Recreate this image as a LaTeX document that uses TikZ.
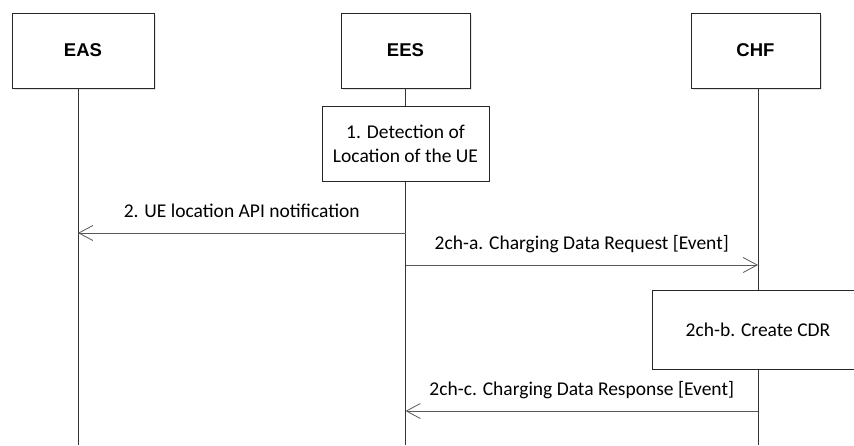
\documentclass[tikz,border=0pt]{standalone}
\usepackage{fontspec}
\setmainfont{Carlito}
\newfontfamily\headfont{Liberation Sans}
\usetikzlibrary{arrows.meta,shadows}

\begin{document}
\begin{tikzpicture}[x=1pt,y=-1pt,line width=0.8pt,
	entity/.style={draw=black!85, fill=white, minimum height=75pt, inner sep=0pt,
		font=\headfont\bfseries\fontsize{18.5}{22}\selectfont,
		drop shadow={shadow xshift=2pt, shadow yshift=-2pt, fill=black!20}},
	action/.style={draw=black!85, fill=white, align=center, inner sep=0pt,
		font=\fontsize{19.5}{24}\selectfont},
	lifeline/.style={draw=black!80},
	msg/.style={draw=black!65, -{Straight Barb[length=14pt,width=15pt]}},
	msglabel/.style={midway, anchor=base, yshift=16pt, inner sep=0pt,
		font=\fontsize{19.5}{22}\selectfont}]
	\useasboundingbox (0,0) rectangle (854,445);
	\clip (0,0) rectangle (854,445);
	% entities and lifelines
	\foreach \name/\label/\x/\lx/\w in {eas/EAS/83/78/142, ees/EES/405.5/405.5/129, chf/CHF/755.5/758/129}{
		\node[entity, minimum width=\w pt] (\name) at (\x,50.5) {\label};
		\coordinate (\name L) at (\lx,445);
		\draw[lifeline] (\name L |- \name.south) -- (\name L);
	}
	% step 1
	\node[action, minimum width=167pt, minimum height=75pt] (detect) at (405.5,143.5)
		{1. Detection of\\Location of the UE};
	% step 2
	\coordinate (m2) at (0,233);
	\draw[msg] (eesL |- m2) -- node[msglabel] {2. UE location API notification} (easL |- m2);
	% step 2ch-a
	\coordinate (m2a) at (0,265);
	\draw[msg] (eesL |- m2a) -- node[msglabel] {2ch-a. Charging Data Request [Event]} (chfL |- m2a);
	% step 2ch-b
	\node[action, minimum width=212pt, minimum height=79pt] (cdr) at (758,330) {2ch-b. Create CDR};
	% step 2ch-c
	\coordinate (m2c) at (0,411);
	\draw[msg] (chfL |- m2c) -- node[msglabel] {2ch-c. Charging Data Response [Event]} (eesL |- m2c);
\end{tikzpicture}
\end{document}
